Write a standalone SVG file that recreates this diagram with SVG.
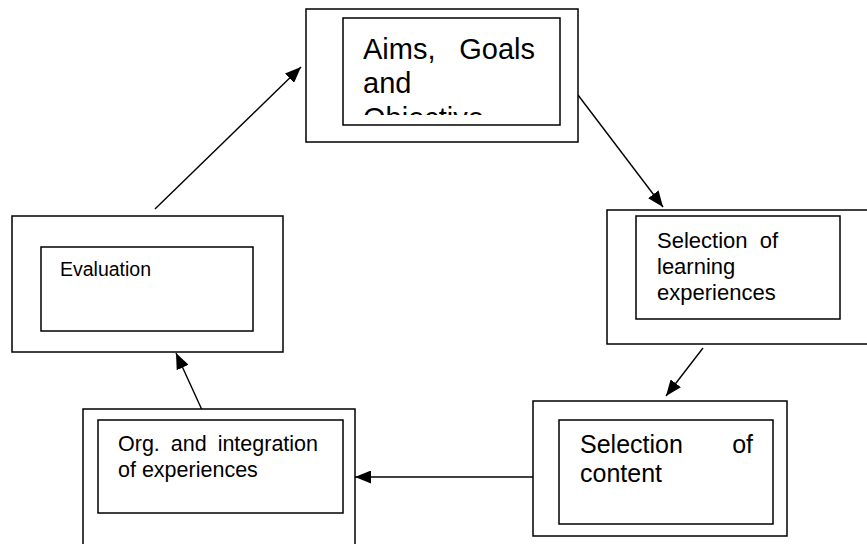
<svg xmlns="http://www.w3.org/2000/svg" width="867" height="544" viewBox="0 0 867 544">
  <style>
    .box { fill: #ffffff; stroke: #000000; stroke-width: 1.5; }
    .lbl { font-family: "Liberation Sans", Arial, sans-serif; fill: #000000; }
    .edge { fill: none; stroke: #000000; stroke-width: 1.4; marker-end: url(#arrow); }
  </style>
  <defs>
    <marker id="arrow" viewBox="0 0 16 13" refX="16" refY="6.5" markerUnits="userSpaceOnUse" markerWidth="16" markerHeight="13" orient="auto">
      <path d="M0,0 L16,6.5 L0,13 z" fill="#000000"/>
    </marker>
    <!-- the third line of the top label is cut off inside its frame -->
    <clipPath id="clipAims">
      <rect x="344" y="19" width="215" height="96"/>
    </clipPath>
  </defs>

  <rect width="867" height="544" fill="#ffffff"/>

  <g id="edges">
    <line class="edge" x1="155" y1="209" x2="301" y2="67"/>
    <line class="edge" x1="578" y1="95" x2="663" y2="207"/>
    <line class="edge" x1="703" y1="348" x2="666" y2="396"/>
    <line class="edge" x1="533" y1="477" x2="355" y2="477"/>
    <line class="edge" x1="202" y1="410" x2="176" y2="353"/>
  </g>

  <g id="aims">
    <rect class="box" x="306" y="9" width="272" height="133"/>
    <rect class="box" x="343" y="18" width="217" height="107"/>
    <g clip-path="url(#clipAims)">
      <text class="lbl" font-size="29" x="363" y="59">Aims,</text>
      <text class="lbl" font-size="29" x="535" y="59" text-anchor="end">Goals</text>
      <text class="lbl" font-size="29" x="363" y="93">and</text>
      <text class="lbl" font-size="29" x="363" y="128">Objective</text>
    </g>
  </g>

  <g id="learning">
    <rect class="box" x="607" y="210" width="262" height="134"/>
    <rect class="box" x="636" y="216" width="204" height="103"/>
    <text class="lbl" font-size="22" x="657" y="248">Selection</text>
    <text class="lbl" font-size="22" x="778" y="248" text-anchor="end">of</text>
    <text class="lbl" font-size="22" x="657" y="274">learning</text>
    <text class="lbl" font-size="22" x="657" y="300">experiences</text>
  </g>

  <g id="content">
    <rect class="box" x="533" y="401" width="254" height="135"/>
    <rect class="box" x="559" y="420" width="214" height="104"/>
    <text class="lbl" font-size="25" x="580" y="453">Selection</text>
    <text class="lbl" font-size="25" x="753" y="453" text-anchor="end">of</text>
    <text class="lbl" font-size="25" x="580" y="482">content</text>
  </g>

  <g id="org">
    <rect class="box" x="83" y="409" width="272" height="145"/>
    <rect class="box" x="98" y="420" width="245" height="93"/>
    <text class="lbl" font-size="21.5" x="118" y="451" word-spacing="5">Org. and integration</text>
    <text class="lbl" font-size="21.5" x="118" y="477">of experiences</text>
  </g>

  <g id="evaluation">
    <rect class="box" x="12" y="216" width="271" height="136"/>
    <rect class="box" x="41" y="247" width="212" height="84"/>
    <text class="lbl" font-size="19.5" x="60" y="276">Evaluation</text>
  </g>
</svg>
